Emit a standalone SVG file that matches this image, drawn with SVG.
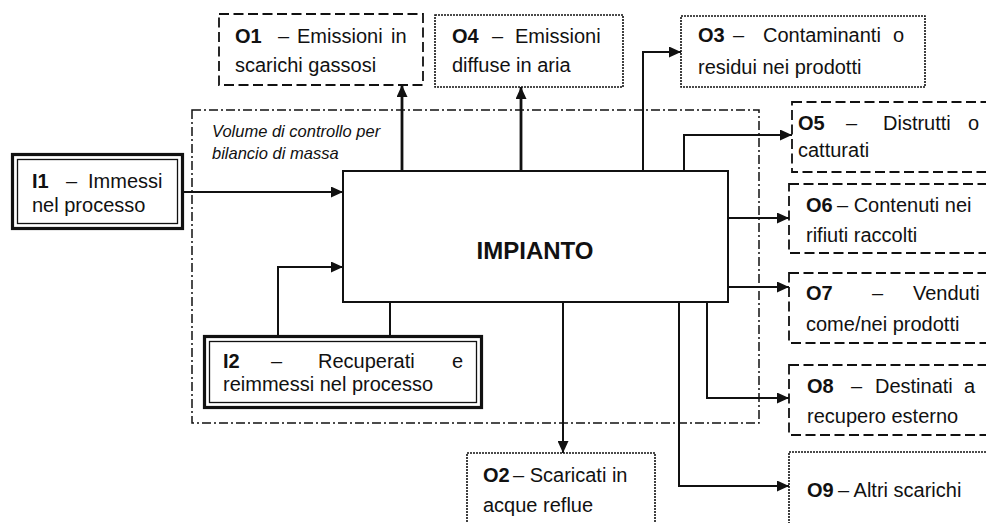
<svg xmlns="http://www.w3.org/2000/svg" width="986" height="523" viewBox="0 0 986 523">
<style>
text{font-family:"Liberation Sans",Arial,sans-serif;font-size:20px;fill:#111}
.b{font-weight:bold}
.it{font-style:italic;font-size:16.5px}
.dash{fill:#fff;stroke:#111;stroke-width:1.8;stroke-dasharray:10 4.5}
.dot{fill:#fff;stroke:#111;stroke-width:1.6;stroke-dasharray:2 1}
.cv{fill:none;stroke:#111;stroke-width:1.5;stroke-dasharray:9 3 2 3}
.dbo{fill:#fff;stroke:#111;stroke-width:3.2}
.dbi{fill:none;stroke:#111;stroke-width:1.3}
.c{fill:none;stroke:#111;stroke-width:2}
.ct{fill:none;stroke:#111;stroke-width:2.8}
</style>
<defs>
<marker id="ah" markerUnits="userSpaceOnUse" markerWidth="12" markerHeight="11" refX="12" refY="5.5" orient="auto">
<path d="M0,0 L12,5.5 L0,11 z" fill="#111"/>
</marker>
</defs>
<rect width="986" height="523" fill="#fff"/>

<g id="control-volume">
<rect class="cv" x="192" y="110" width="567" height="313"/>
<text class="it" x="212" y="137">Volume di controllo per</text>
<text class="it" x="212" y="159">bilancio di massa</text>
</g>

<g id="connectors">
<path class="c" d="M184,192 H343" marker-end="url(#ah)"/>
<path class="c" d="M278,336 V267 H343" marker-end="url(#ah)"/>
<path class="c" d="M390,302 V336"/>
<path class="ct" d="M402,171 V85" marker-end="url(#ah)"/>
<path class="ct" d="M521,171 V87" marker-end="url(#ah)"/>
<path class="c" d="M643,171 V52 H681" marker-end="url(#ah)"/>
<path class="c" d="M684,171 V135 H792" marker-end="url(#ah)"/>
<path class="c" d="M728,218 H789" marker-end="url(#ah)"/>
<path class="c" d="M728,287 H789" marker-end="url(#ah)"/>
<path class="c" d="M707,302 V398 H789" marker-end="url(#ah)"/>
<path class="c" d="M679,302 V486 H789" marker-end="url(#ah)"/>
<path class="c" d="M563,302 V453" marker-end="url(#ah)"/>
</g>

<g id="impianto">
<rect x="343" y="171" width="385" height="131" fill="#fff" stroke="#111" stroke-width="2"/>
<text class="b" x="535" y="259" text-anchor="middle" style="font-size:24px">IMPIANTO</text>
</g>

<g id="I1">
<rect class="dbo" x="12.5" y="154.5" width="170" height="74"/>
<rect class="dbi" x="17.5" y="159.5" width="160" height="64"/>
<text y="188"><tspan class="b" x="32">I1</tspan><tspan x="66">–</tspan><tspan x="88">Immessi</tspan></text>
<text x="32" y="212">nel processo</text>
</g>

<g id="I2">
<rect class="dbo" x="204.5" y="336.5" width="277" height="71"/>
<rect class="dbi" x="209.5" y="341.5" width="267" height="61"/>
<text y="368"><tspan class="b" x="223">I2</tspan><tspan x="271">–</tspan><tspan x="318">Recuperati</tspan><tspan x="452">e</tspan></text>
<text x="223" y="391">reimmessi nel processo</text>
</g>

<g id="O1">
<rect class="dash" x="219" y="14" width="204" height="71"/>
<text y="43"><tspan class="b" x="235">O1</tspan><tspan x="278">–</tspan><tspan x="297">Emissioni</tspan><tspan x="391">in</tspan></text>
<text x="235" y="72">scarichi gassosi</text>
</g>

<g id="O4">
<rect class="dot" x="435" y="15" width="188" height="72"/>
<text y="43"><tspan class="b" x="452">O4</tspan><tspan x="492">–</tspan><tspan x="515">Emissioni</tspan></text>
<text x="452" y="72">diffuse in aria</text>
</g>

<g id="O3">
<rect class="dot" x="681" y="16" width="244" height="71"/>
<text y="42"><tspan class="b" x="698">O3</tspan><tspan x="733">–</tspan><tspan x="763">Contaminanti</tspan><tspan x="893">o</tspan></text>
<text x="698" y="74">residui nei prodotti</text>
</g>

<g id="O5">
<rect class="dash" x="792" y="102" width="200" height="70"/>
<text y="130"><tspan class="b" x="798">O5</tspan><tspan x="846">–</tspan><tspan x="883">Distrutti</tspan><tspan x="968">o</tspan></text>
<text x="798" y="157">catturati</text>
</g>

<g id="O6">
<rect class="dash" x="789" y="184" width="203" height="69"/>
<text y="212"><tspan class="b" x="806">O6</tspan><tspan x="837">– Contenuti nei</tspan></text>
<text x="806" y="242">rifiuti raccolti</text>
</g>

<g id="O7">
<rect class="dash" x="789" y="273" width="203" height="70"/>
<text y="300"><tspan class="b" x="806">O7</tspan><tspan x="872">–</tspan><tspan x="913">Venduti</tspan></text>
<text x="806" y="331">come/nei prodotti</text>
</g>

<g id="O8">
<rect class="dash" x="789" y="365" width="203" height="70"/>
<text y="393"><tspan class="b" x="807">O8</tspan><tspan x="851">–</tspan><tspan x="875">Destinati</tspan><tspan x="964">a</tspan></text>
<text x="807" y="423">recupero esterno</text>
</g>

<g id="O9">
<rect class="dot" x="789" y="452" width="203" height="76"/>
<text y="497"><tspan class="b" x="807">O9</tspan><tspan x="838">– Altri scarichi</tspan></text>
</g>

<g id="O2">
<rect class="dot" x="467" y="453" width="188" height="76"/>
<text y="482"><tspan class="b" x="483">O2</tspan><tspan x="513">– Scaricati in</tspan></text>
<text x="483" y="512">acque reflue</text>
</g>
</svg>
